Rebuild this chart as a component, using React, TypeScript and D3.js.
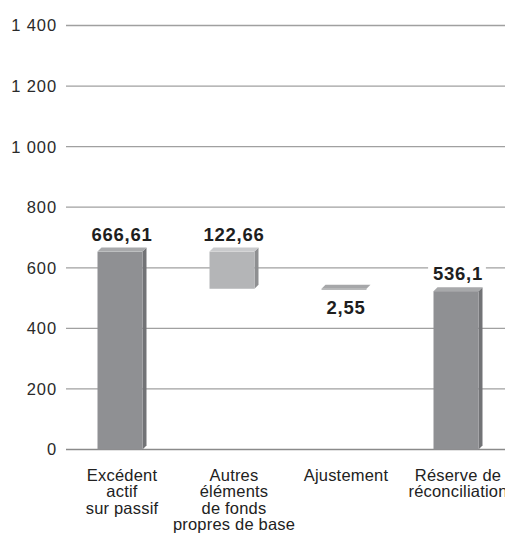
import React, { useEffect, useRef } from 'react';
import * as d3 from 'd3';

const categories = [
    ['Excédent', 'actif', 'sur passif'],
    ['Autres', 'éléments', 'de fonds', 'propres de base'],
    ['Ajustement'],
    ['Réserve de', 'réconciliation'],
];
const values = [666.61, -122.66, -2.55, 536.1];
const isTotal = [true, false, false, true];
const valueLabels = ['666,61', '122,66', '2,55', '536,1'];
const yTicks = [0, 200, 400, 600, 800, 1000, 1200, 1400];

const W = 505;
const H = 535;

const App = () => {
    const svgRef = useRef<SVGSVGElement>(null);

    useEffect(() => {
        document.body.style.margin = '0';
        if (!svgRef.current) return;
        const svg = d3.select(svgRef.current);
        svg.selectAll('*').remove();

        const font = '"Liberation Sans", Arial, sans-serif';
        const y = d3.scaleLinear().domain([0, 1400]).range([449.5, 25.5]);
        const x = d3.scalePoint<number>()
            .domain(d3.range(categories.length))
            .range([65, 513])
            .padding(0.5);

        // waterfall spans
        let running = 0;
        const spans = values.map((v, i) => {
            if (isTotal[i]) {
                running = v;
                return { lo: 0, hi: v };
            }
            const start = running;
            running += v;
            return { lo: Math.min(start, running), hi: Math.max(start, running) };
        });

        // gridlines
        svg.append('g')
            .selectAll('line')
            .data(yTicks)
            .join('line')
            .attr('x1', 66)
            .attr('x2', W)
            .attr('y1', d => y(d))
            .attr('y2', d => y(d))
            .attr('stroke', d => (d === 0 ? '#8a8a8a' : '#a0a0a0'))
            .attr('stroke-width', 1.3);

        svg.append('g')
            .selectAll('text')
            .data(yTicks)
            .join('text')
            .attr('x', 57)
            .attr('y', d => y(d))
            .attr('dy', '0.36em')
            .attr('text-anchor', 'end')
            .attr('font-family', font)
            .attr('font-size', 16.5)
            .attr('letter-spacing', 0.9)
            .attr('fill', '#2a2a2a')
            .text(d => d3.format(',')(d).replace(/,/g, ' '));

        // 3d bars
        const bw = 45;
        const depth = 4;
        const palette = [
            { front: '#8f9093', side: '#727376', top: '#a8a9ab' },
            { front: '#b4b5b7', side: '#8e8f91', top: '#c9cacc' },
            { front: '#a4a5a7', side: '#8a8b8d', top: '#a6a7a9' },
        ];

        const bars = svg.append('g');
        spans.forEach((s, i) => {
            const cx = x(i) as number;
            const x0 = cx - bw / 2 - 1;
            const x1 = x0 + bw;
            const yTop = y(s.hi) + depth;
            const yBot = Math.min(y(s.lo) + depth, y(0));
            const c = isTotal[i] ? palette[0] : palette[Math.min(i, 2)];
            const h = Math.max(yBot - yTop, 1);
            if (h > 2) {
                bars.append('path')
                    .attr('d', `M${x1},${yTop}L${x1 + depth},${yTop - depth}L${x1 + depth},${yTop + h - depth}L${x1},${yTop + h}Z`)
                    .attr('fill', c.side);
            }
            bars.append('rect')
                .attr('x', x0)
                .attr('y', yTop)
                .attr('width', bw)
                .attr('height', h)
                .attr('fill', c.front);
            bars.append('path')
                .attr('d', `M${x0},${yTop}L${x0 + depth},${yTop - depth}L${x1 + depth},${yTop - depth}L${x1},${yTop}Z`)
                .attr('fill', c.top);
        });

        // value labels
        const lab = svg.append('g');
        spans.forEach((s, i) => {
            const cx = (x(i) as number) + 1;
            const below = i === 2;
            const ly = below ? y(s.lo) + 28 : y(s.hi) - 7;
            const t = lab.append('text')
                .attr('x', cx)
                .attr('y', ly)
                .attr('text-anchor', 'middle')
                .attr('font-family', font)
                .attr('font-weight', 'bold')
                .attr('font-size', 18.5)
                .attr('letter-spacing', 0.7)
                .attr('fill', '#1e1e1e')
                .text(valueLabels[i]);
            if (i === 3) {
                const bb = (t.node() as SVGTextElement).getBBox();
                lab.insert('rect', 'text')
                    .attr('x', bb.x - 5)
                    .attr('y', bb.y)
                    .attr('width', bb.width + 8)
                    .attr('height', bb.height)
                    .attr('fill', '#fff');
            }
        });

        // category labels
        const cat = svg.append('g');
        categories.forEach((lines, i) => {
            const t = cat.append('text')
                .attr('x', (x(i) as number) + 1)
                .attr('y', 481)
                .attr('text-anchor', 'middle')
                .attr('font-family', font)
                .attr('font-size', 16.5)
                .attr('letter-spacing', 0.2)
                .attr('fill', '#222');
            lines.forEach((ln, j) => {
                t.append('tspan')
                    .attr('x', (x(i) as number) + 1)
                    .attr('dy', j === 0 ? 0 : 16.3)
                    .text(ln);
            });
        });
    }, []);

    return <svg ref={svgRef} width={W} height={H} style={{ display: 'block', background: '#fff' }} />;
};

export default App;
